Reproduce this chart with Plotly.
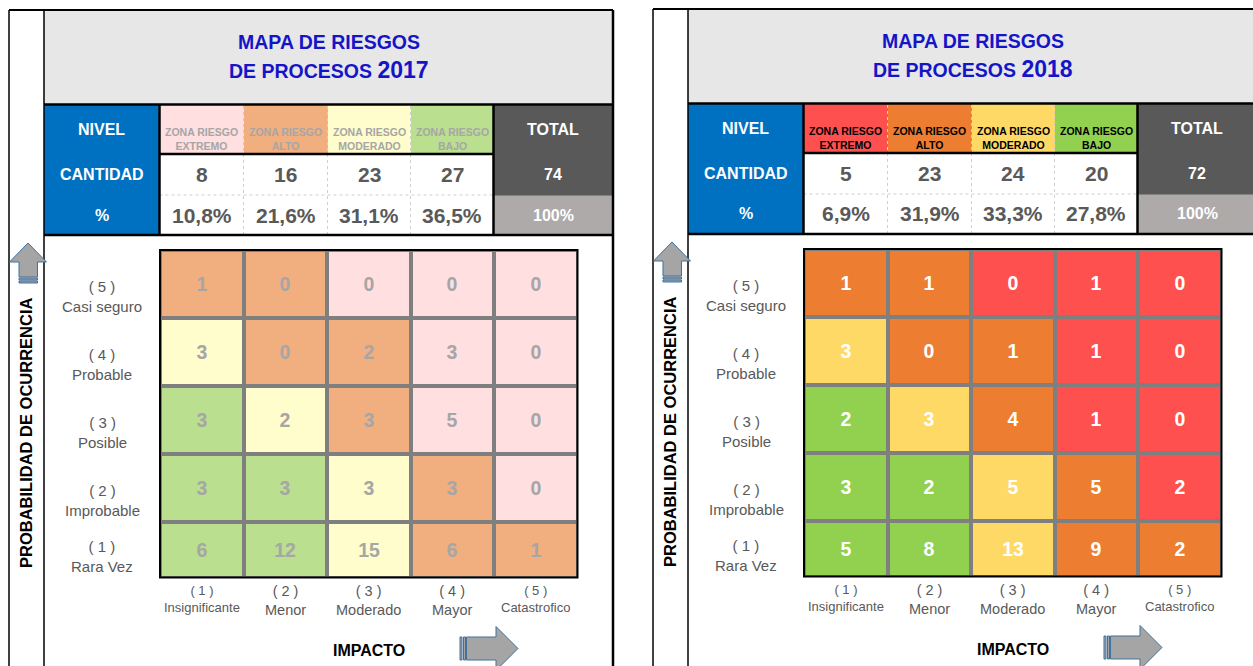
import plotly.graph_objects as go

# ---------------- data ----------------
YEARS = ["2017", "2018"]
ZONE_NAMES = ["EXTREMO", "ALTO", "MODERADO", "BAJO"]
IMPACT_LEVELS = ["( 1 )", "( 2 )", "( 3 )", "( 4 )", "( 5 )"]
IMPACT_NAMES = ["Insignificante", "Menor", "Moderado", "Mayor", "Catastrofico"]
PROB_LEVELS = ["( 5 )", "( 4 )", "( 3 )", "( 2 )", "( 1 )"]          # top -> bottom
PROB_NAMES = ["Casi seguro", "Probable", "Posible", "Improbable", "Rara Vez"]

# zone of each cell: 0 extremo, 1 alto, 2 moderado, 3 bajo (rows top (5) -> bottom (1))
ZONE_MATRIX = [
    [1, 1, 0, 0, 0],
    [2, 1, 1, 0, 0],
    [3, 2, 1, 0, 0],
    [3, 3, 2, 1, 0],
    [3, 3, 2, 1, 1],
]
COUNTS_2017 = [
    [1, 0, 0, 0, 0],
    [3, 0, 2, 3, 0],
    [3, 2, 3, 5, 0],
    [3, 3, 3, 3, 0],
    [6, 12, 15, 6, 1],
]
COUNTS_2018 = [
    [1, 1, 0, 1, 0],
    [3, 0, 1, 1, 0],
    [2, 3, 4, 1, 0],
    [3, 2, 5, 5, 2],
    [5, 8, 13, 9, 2],
]
CANTIDAD_2017 = [8, 16, 23, 27]
CANTIDAD_2018 = [5, 23, 24, 20]
PCT_2017 = ["10,8%", "21,6%", "31,1%", "36,5%"]
PCT_2018 = ["6,9%", "31,9%", "33,3%", "27,8%"]
TOTAL_2017 = 74
TOTAL_2018 = 72

# ---------------- style / geometry ----------------
W, H = 1253, 666
FONT = "Liberation Sans, Arial, sans-serif"
TITLE_BLUE = "#1515C8"
BLUE = "#0070C0"
DARK = "#595959"
LIGHT = "#AEAAAA"
TEXT_GREY = "#595959"
PALETTES = [
    ["#FFDFE0", "#F1AE7E", "#FFFDCC", "#B9DF8F"],
    ["#FF5050", "#ED7D31", "#FFD966", "#92D050"],
]
GRID_TEXT = ["#A6A6A6", "#FFFFFF"]
ZONE_TEXT = ["#A6A6A6", "#000000"]
PANEL_OFFSETS = [(0, 0), (644, -1)]

FRAME_L, FRAME_IN, FRAME_T, FRAME_R = 9, 44, 10, 613
TABLE_X0, TABLE_Y0 = 44, 104.5
TABLE_COL_W = [115.5, 84, 84, 83, 83, 119.5]
TABLE_ROW_H = [49.5, 41, 40]
# fill codes: 0 blue, 1-4 zones, 5 white, 6 dark, 7 light
TABLE_FILL = [
    [0, 1, 2, 3, 4, 6],
    [0, 5, 5, 5, 5, 6],
    [0, 5, 5, 5, 5, 7],
]
GRID_X0, GRID_Y0, GRID_W = 160, 250, 417.5
GRID_ROW_H = [68, 68, 68, 68, 55.5]


def fx(x):
    return x / W


def fy(y):
    return 1 - y / H


def cum(vals):
    out = [0]
    for v in vals:
        out.append(out[-1] + v)
    return out


def discrete_scale(colors):
    n = len(colors)
    sc = []
    for i, c in enumerate(colors):
        sc.append([i / n, c])
        sc.append([(i + 1) / n, c])
    return sc


def axname(n, letter):
    return f"{letter}axis" if n == 1 else f"{letter}axis{n}"


def ref(n, letter):
    return letter if n == 1 else f"{letter}{n}"


shapes = []
annotations = []
fig = go.Figure()
layout_axes = {}
hidden = dict(showgrid=False, zeroline=False, showticklabels=False, ticks="",
              showline=False, fixedrange=True)


def line(x0, y0, x1, y1, color="black", width=1.5, dash="solid"):
    shapes.append(dict(type="line", xref="paper", yref="paper",
                       x0=fx(x0), y0=fy(y0), x1=fx(x1), y1=fy(y1),
                       line=dict(color=color, width=width, dash=dash)))


def rect(x0, y0, x1, y1, fill, lcolor=None, width=0, layer="above"):
    shapes.append(dict(type="rect", xref="paper", yref="paper",
                       x0=fx(x0), y0=fy(y0), x1=fx(x1), y1=fy(y1),
                       fillcolor=fill, layer=layer,
                       line=dict(color=lcolor or fill, width=width)))


def path(points, fill="#A5A5A5", lcolor="#41719C", width=1):
    d = "M " + " L ".join(f"{fx(x):.6f} {fy(y):.6f}" for x, y in points) + " Z"
    shapes.append(dict(type="path", xref="paper", yref="paper", path=d,
                       fillcolor=fill, line=dict(color=lcolor, width=width)))


def text(x, y, s, size, color="black", xref="paper", yref="paper",
         xanchor="center", yanchor="middle", **kw):
    annotations.append(dict(x=x, y=y, xref=xref, yref=yref, text=s, showarrow=False,
                            xanchor=xanchor, yanchor=yanchor, align="center",
                            font=dict(family=FONT, size=size, color=color), **kw))


datasets = [
    (YEARS[0], COUNTS_2017, CANTIDAD_2017, PCT_2017, TOTAL_2017),
    (YEARS[1], COUNTS_2018, CANTIDAD_2018, PCT_2018, TOTAL_2018),
]

for p, (year, counts, cant, pct, total) in enumerate(datasets):
    ox, oy = PANEL_OFFSETS[p]
    palette = PALETTES[p]
    g_n, t_n = 2 * p + 1, 2 * p + 2

    # ---- frame & title box ----
    rect(FRAME_IN + ox, FRAME_T + oy, FRAME_R + ox, TABLE_Y0 + oy, "#E7E7E7", layer="below")
    line(FRAME_L + ox, FRAME_T + oy, FRAME_L + ox, H + 2)
    line(FRAME_IN + ox, FRAME_T + oy, FRAME_IN + ox, H + 2)
    line(FRAME_R + ox, FRAME_T + oy, FRAME_R + ox, H + 2, width=2.5)
    line(FRAME_L + ox, FRAME_T + oy, FRAME_R + ox, FRAME_T + oy, width=2)
    cx = (FRAME_IN + FRAME_R) / 2 + ox
    text(fx(cx), fy(42 + oy), "<b>MAPA DE RIESGOS</b>", 19.5, TITLE_BLUE)
    text(fx(cx), fy(70 + oy),
         f"<b>DE PROCESOS <span style='font-size:23px'>{year}</span></b>", 19.5, TITLE_BLUE)

    # ---- table ----
    col_e = cum(TABLE_COL_W)
    row_e = cum(TABLE_ROW_H)
    tx0 = TABLE_X0 + ox
    ty0 = TABLE_Y0 + oy
    tx1 = min(tx0 + col_e[-1], W)
    ty1 = ty0 + row_e[-1]
    layout_axes[axname(t_n, "x")] = dict(domain=[fx(tx0), fx(tx1)], range=[0, tx1 - tx0],
                                         anchor=ref(t_n, "y"), **hidden)
    layout_axes[axname(t_n, "y")] = dict(domain=[fy(ty1), fy(ty0)], range=[row_e[-1], 0],
                                         anchor=ref(t_n, "x"), **hidden)
    tcolors = [BLUE] + palette + ["#FFFFFF", DARK, LIGHT]
    fig.add_trace(go.Heatmap(z=TABLE_FILL, x=col_e, y=row_e,
                             colorscale=discrete_scale(tcolors), zmin=-0.5,
                             zmax=len(tcolors) - 0.5, showscale=False, hoverinfo="skip",
                             xaxis=ref(t_n, "x"), yaxis=ref(t_n, "y")))
    ccen = [(col_e[i] + col_e[i + 1]) / 2 for i in range(len(TABLE_COL_W))]
    rcen = [(row_e[i] + row_e[i + 1]) / 2 for i in range(len(TABLE_ROW_H))]
    tx, ty = ref(t_n, "x"), ref(t_n, "y")
    for r, lab in enumerate(["NIVEL", "CANTIDAD", "%"]):
        text(ccen[0], rcen[r], f"<b>{lab}</b>", 16, "white", xref=tx, yref=ty)
    for i, zn in enumerate(ZONE_NAMES):
        text(ccen[i + 1], rcen[0], f"<b>ZONA RIESGO<br>{zn}</b>", 10.5, ZONE_TEXT[p],
             xref=tx, yref=ty, yshift=-10)
        text(ccen[i + 1], rcen[1], f"<b>{cant[i]}</b>", 21, TEXT_GREY, xref=tx, yref=ty)
        text(ccen[i + 1], rcen[2], f"<b>{pct[i]}</b>", 21, TEXT_GREY, xref=tx, yref=ty)
    text(ccen[5], rcen[0], "<b>TOTAL</b>", 16, "white", xref=tx, yref=ty)
    text(ccen[5], rcen[1], f"<b>{total}</b>", 16, "white", xref=tx, yref=ty)
    text(ccen[5], rcen[2], "<b>100%</b>", 16, "white", xref=tx, yref=ty)

    # table lines
    zx0 = tx0 + col_e[1]
    zx1 = tx0 + col_e[5]
    for i in (2, 3, 4):
        line(tx0 + col_e[i], ty0 + 1.5, tx0 + col_e[i], ty1, "#CFCFCF", 1, "dot")
    line(zx0, ty0 + row_e[2], zx1, ty0 + row_e[2], "#CFCFCF", 1, "dot")
    line(zx0, ty0 + row_e[1], zx1, ty0 + row_e[1], width=2.5)
    line(zx0, ty0, zx0, ty1, width=2.5)
    line(zx1, ty0, zx1, ty1, width=2.5)
    line(tx0, ty0, tx0 + col_e[-1], ty0, width=2.5)
    line(tx0, ty1, tx0 + col_e[-1], ty1, width=2.5)

    # ---- risk grid ----
    gx0, gy0 = GRID_X0 + ox, GRID_Y0 + oy
    g_rows = cum(GRID_ROW_H)
    gx1, gy1 = gx0 + GRID_W, gy0 + g_rows[-1]
    layout_axes[axname(g_n, "x")] = dict(domain=[fx(gx0), fx(gx1)], range=[0.5, 5.5],
                                         anchor=ref(g_n, "y"), **hidden)
    layout_axes[axname(g_n, "y")] = dict(domain=[fy(gy1), fy(gy0)], range=[g_rows[-1], 0],
                                         anchor=ref(g_n, "x"), **hidden)
    rect(gx0, gy0, gx1, gy1, "#7F7F7F", layer="below")
    fig.add_trace(go.Heatmap(
        z=ZONE_MATRIX, x=list(range(1, 6)), y=g_rows, text=counts,
        texttemplate="%{text}",
        textfont=dict(family=FONT, size=19.5, color=GRID_TEXT[p], weight="bold"),
        colorscale=discrete_scale(palette), zmin=-0.5, zmax=3.5, showscale=False,
        xgap=4, ygap=4, hoverinfo="skip", xaxis=ref(g_n, "x"), yaxis=ref(g_n, "y")))
    rect(gx0, gy0, gx1, gy1, "rgba(0,0,0,0)", "black", 2)

    gxr, gyr = ref(g_n, "x"), ref(g_n, "y")
    for r in range(5):
        text(fx(102 + ox), g_rows[r + 1], f"{PROB_LEVELS[r]}<br>{PROB_NAMES[r]}", 15,
             TEXT_GREY, yref=gyr, yanchor="bottom", yshift=1)
    for c in range(5):
        sz = 13 if len(IMPACT_NAMES[c]) > 10 else 14.5
        text(c + 1, fy(gy1), f"{IMPACT_LEVELS[c]}<br>{IMPACT_NAMES[c]}", sz, TEXT_GREY,
             xref=gxr, yanchor="top", yshift=-3)

    # axis titles
    text(fx((gx0 + gx1) / 2), fy(650 + oy), "<b>IMPACTO</b>", 16, "black")
    text(fx(26 + ox), fy(433 + oy), "<b>PROBABILIDAD DE OCURRENCIA</b>", 16.5, "black",
         textangle=-90)

    # arrows
    path([(19 + ox, 277 + oy), (19 + ox, 262 + oy), (9.5 + ox, 262 + oy), (28 + ox, 243 + oy),
          (46.5 + ox, 262 + oy), (37.5 + ox, 262 + oy), (37.5 + ox, 277 + oy)])
    for (a, b) in [(278, 280), (281, 283)]:
        path([(19 + ox, a + oy), (37.5 + ox, a + oy), (37.5 + ox, b + oy), (19 + ox, b + oy)],
             fill="#A5A5A5")
    path([(466.5 + ox, 637 + oy), (496 + ox, 637 + oy), (496 + ox, 626.5 + oy),
          (518 + ox, 648.5 + oy), (496 + ox, 670.5 + oy), (496 + ox, 660 + oy),
          (466.5 + ox, 660 + oy)])
    for (a, b) in [(460, 462), (463.5, 465.5)]:
        path([(a + ox, 637 + oy), (b + ox, 637 + oy), (b + ox, 660 + oy), (a + ox, 660 + oy)],
             fill="#A5A5A5")

fig.update_layout(
    width=W, height=H, autosize=False,
    margin=dict(l=0, r=0, t=0, b=0),
    paper_bgcolor="white", plot_bgcolor="rgba(0,0,0,0)",
    font=dict(family=FONT),
    showlegend=False,
    shapes=shapes, annotations=annotations,
    **layout_axes,
)
fig.write_html("out.html", config={"displayModeBar": False},
               post_script="document.body.style.margin='0px';"
                           "document.body.style.overflow='hidden';")
